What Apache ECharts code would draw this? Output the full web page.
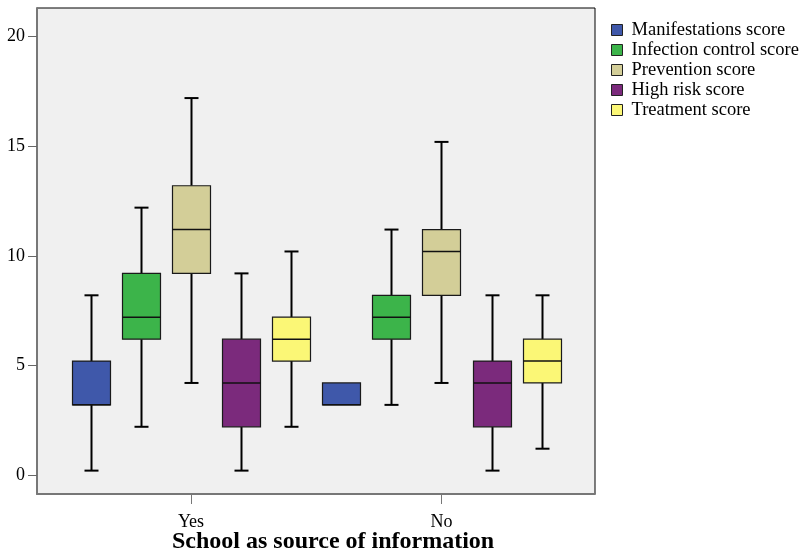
<!DOCTYPE html>
<html>
<head>
<meta charset="utf-8">
<script src="https://cdn.jsdelivr.net/npm/echarts@6/dist/echarts.min.js"></script>
<style>html,body{margin:0;padding:0;background:#fff}#c{width:803px;height:559px}</style>
</head>
<body>
<div id="c"></div>
<script>
// Categories and tick labels
const categories = ['Yes', 'No'];
const yTicks = [0, 5, 10, 15, 20];
const seriesNames = ['Manifestations score', 'Infection control score', 'Prevention score', 'High risk score', 'Treatment score'];
const seriesColors = ['#3F58AA', '#3CB44A', '#D3CE98', '#7B2A7C', '#FBF776'];
// Each entry: [low, Q1, median, Q3, high] for Yes, No
const manifestations = [[0.2, 3.2, 3.2, 5.2, 8.2], [3.2, 3.2, 3.2, 4.2, 4.2]];
const infectionControl = [[2.2, 6.2, 7.2, 9.2, 12.2], [3.2, 6.2, 7.2, 8.2, 11.2]];
const prevention = [[4.2, 9.2, 11.2, 13.2, 17.2], [4.2, 8.2, 10.2, 11.2, 15.2]];
const highRisk = [[0.2, 2.2, 4.2, 6.2, 9.2], [0.2, 2.2, 4.2, 5.2, 8.2]];
const treatment = [[2.2, 5.2, 6.2, 7.2, 10.2], [1.2, 4.2, 5.2, 6.2, 8.2]];
const allData = [manifestations, infectionControl, prevention, highRisk, treatment];

const chart = echarts.init(document.getElementById('c'), null, {renderer: 'canvas'});
const FONT = '"Liberation Serif", "Times New Roman", serif';
const offsets = [-0.4, -0.2, 0, 0.2, 0.4];

function renderItem(params, api) {
  const si = params.seriesIndex;
  const g = api.value(0);
  const xv = g + offsets[si];
  const low = api.coord([xv, api.value(1)]);
  const q1 = api.coord([xv, api.value(2)]);
  const med = api.coord([xv, api.value(3)]);
  const q3 = api.coord([xv, api.value(4)]);
  const high = api.coord([xv, api.value(5)]);
  const cx = Math.round(low[0]) + 0.5;
  const hw = 19, cw = 7;
  const lineStyle = {stroke: '#000', lineWidth: 2};
  const children = [];
  if (api.value(1) < api.value(2)) {
    children.push({type: 'line', shape: {x1: cx, y1: low[1], x2: cx, y2: q1[1]}, style: lineStyle});
    children.push({type: 'line', shape: {x1: cx - cw, y1: low[1], x2: cx + cw, y2: low[1]}, style: lineStyle});
  }
  if (api.value(5) > api.value(4)) {
    children.push({type: 'line', shape: {x1: cx, y1: high[1], x2: cx, y2: q3[1]}, style: lineStyle});
    children.push({type: 'line', shape: {x1: cx - cw, y1: high[1], x2: cx + cw, y2: high[1]}, style: lineStyle});
  }
  children.push({type: 'rect', shape: {x: cx - hw, y: q3[1], width: hw * 2, height: q1[1] - q3[1]},
    style: {fill: seriesColors[si], stroke: '#1a1a1a', lineWidth: 1.2}});
  children.push({type: 'line', shape: {x1: cx - hw, y1: med[1], x2: cx + hw, y2: med[1]}, style: {stroke: '#111', lineWidth: 1.5}});
  return {type: 'group', children: children};
}

const series = seriesNames.map((name, i) => ({
  name: name,
  type: 'custom',
  renderItem: renderItem,
  itemStyle: {color: seriesColors[i], borderColor: '#222', borderWidth: 1},
  encode: {x: 0, y: [1, 2, 3, 4, 5]},
  data: allData[i].map((d, gi) => [gi + 1].concat(d))
}));

chart.setOption({
  animation: false,
  backgroundColor: '#fff',
  grid: {left: 37, top: 8, width: 558, height: 486, show: true, backgroundColor: '#f0f0f0', borderColor: '#000', borderWidth: 1},
  title: {text: 'School as source of information', left: 167, top: 525,
    textStyle: {fontFamily: FONT, fontSize: 24, fontWeight: 'bold', color: '#000'}},
  legend: {
    orient: 'vertical', left: 606, top: 15, itemWidth: 11, itemHeight: 11, itemGap: 0,
    icon: 'rect', data: seriesNames,
    textStyle: {fontFamily: FONT, fontSize: 18.5, color: '#000', lineHeight: 20, padding: [0, 0, 0, 4]},
    itemStyle: {borderColor: '#222', borderWidth: 1}
  },
  xAxis: {
    type: 'value', min: 0.3852, max: 2.6128,
    splitLine: {show: false},
    axisLine: {show: true, onZero: false, lineStyle: {color: '#777', width: 2}},
    axisTick: {show: true, customValues: [1, 2], length: 10, lineStyle: {color: '#777', width: 1}},
    axisLabel: {show: true, customValues: [1, 2], margin: 19, formatter: v => categories[Math.round(v) - 1] || '',
      fontFamily: FONT, fontSize: 18, color: '#000'}
  },
  yAxis: {
    type: 'value', min: -0.867, max: 21.31,
    splitLine: {show: false},
    axisLine: {show: true, onZero: false, lineStyle: {color: '#777', width: 2}},
    axisTick: {show: true, customValues: yTicks, length: 9, lineStyle: {color: '#666', width: 1}},
    axisLabel: {show: true, customValues: yTicks, margin: 12, fontFamily: FONT, fontSize: 18, color: '#000'}
  },
  series: series
});
</script>
</body>
</html>
